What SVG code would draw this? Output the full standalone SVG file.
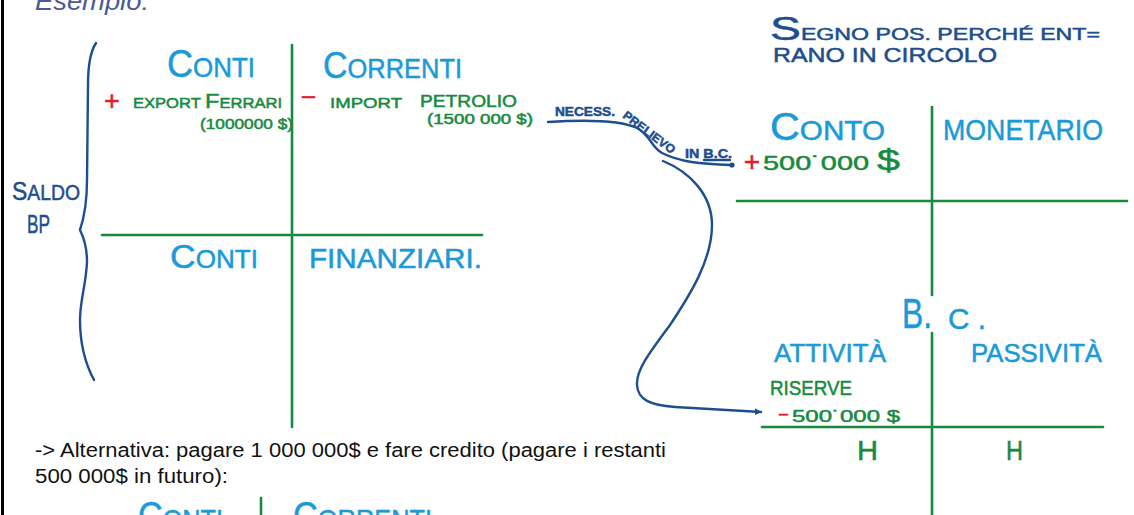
<svg xmlns="http://www.w3.org/2000/svg" width="1134" height="515" viewBox="0 0 1134 515">
<defs>
<marker id="arrow" viewBox="0 0 10 10" refX="9" refY="5" markerWidth="7" markerHeight="7" markerUnits="userSpaceOnUse" orient="auto">
<path d="M0,0 L10,5 L0,10 z" fill="#1d4e8f"/>
</marker>
<style>
.hw{font-family:"Liberation Sans","Noto Sans",sans-serif;stroke-width:0.5;}
.cyan{fill:#1a9ad8;stroke:#1a9ad8;}
.green{fill:#188a3e;stroke:#188a3e;}
.dblue{fill:#1d4e8f;stroke:#1d4e8f;}
.red{fill:#e61b2b;stroke:#e61b2b;}
.gline{stroke:#188a3e;stroke-width:2.6;fill:none;stroke-linecap:round;}
.bline{stroke:#1d4e8f;stroke-width:2.4;fill:none;stroke-linecap:round;}
.body{font-family:"Liberation Sans","Open Sans",sans-serif;font-size:20px;fill:#111;}
</style>
</defs>
<rect width="1134" height="515" fill="#ffffff"/>
<rect x="1" y="0" width="3" height="515" fill="#000"/>
<text x="35" y="10" font-family="Liberation Sans, sans-serif" font-style="italic" font-size="25" fill="#4a5a94" textLength="114" lengthAdjust="spacingAndGlyphs">Esempio:</text>

<g id="saldo-bp">
<path class="bline" d="M96,43 C90,52 88,65 88,85 L87,180 C87,205 84,218 80,230 C85,240 87,248 87,262 C86,285 80,300 80,320 C80,345 86,365 94,380"/>
<text class="hw dblue" x="12" y="200" font-size="22" textLength="68" lengthAdjust="spacingAndGlyphs"><tspan font-size="26">S</tspan>ALDO</text>
<text class="hw dblue" x="27" y="233" font-size="26" textLength="23" lengthAdjust="spacingAndGlyphs">BP</text>
</g>

<g id="bp-table">
<line class="gline" x1="292" y1="45" x2="292" y2="427"/>
<line class="gline" x1="102" y1="235" x2="482" y2="235"/>
<text class="hw cyan" x="167" y="77" font-size="28" textLength="88" lengthAdjust="spacingAndGlyphs"><tspan font-size="39">C</tspan>ONTI</text>
<text class="hw cyan" x="323" y="78" font-size="27" textLength="139" lengthAdjust="spacingAndGlyphs"><tspan font-size="36">C</tspan>ORRENTI</text>
<text class="hw red" x="112" y="110" font-size="27" text-anchor="middle" stroke-width="0.8">+</text>
<text class="hw green" x="133" y="108" font-size="14" textLength="149" lengthAdjust="spacingAndGlyphs">EXPORT <tspan font-size="20">F</tspan>ERRARI</text>
<text class="hw green" x="200" y="129" font-size="14" textLength="93" lengthAdjust="spacingAndGlyphs">(1000000 $)</text>
<text class="hw red" x="302" y="104" font-size="26" stroke-width="0.8" textLength="13" lengthAdjust="spacingAndGlyphs">–</text>
<text class="hw green" x="330" y="108" font-size="15" textLength="72" lengthAdjust="spacingAndGlyphs">IMPORT</text>
<text class="hw green" x="420" y="107" font-size="16" textLength="97" lengthAdjust="spacingAndGlyphs">PETROLIO</text>
<text class="hw green" x="427" y="124" font-size="14" textLength="106" lengthAdjust="spacingAndGlyphs">(1500 000 $)</text>
<text class="hw cyan" x="170" y="268" font-size="25" textLength="88" lengthAdjust="spacingAndGlyphs"><tspan font-size="34">C</tspan>ONTI</text>
<text class="hw cyan" x="309" y="268" font-size="27" textLength="173" lengthAdjust="spacingAndGlyphs">FINANZIARI.</text>
</g>

<g id="note-segno">
<text class="hw dblue" x="770" y="40" font-size="17" textLength="330" lengthAdjust="spacingAndGlyphs"><tspan font-size="34">S</tspan>EGNO POS. PERCHÉ ENT=</text>
<text class="hw dblue" x="773" y="62" font-size="21" textLength="224" lengthAdjust="spacingAndGlyphs">RANO IN CIRCOLO</text>
</g>

<g id="conto-monetario">
<line class="gline" x1="932" y1="107" x2="932" y2="295"/>
<line class="gline" x1="737" y1="201" x2="1127" y2="201"/>
<text class="hw cyan" x="770" y="140" font-size="28" textLength="115" lengthAdjust="spacingAndGlyphs"><tspan font-size="39">C</tspan>ONTO</text>
<text class="hw cyan" x="943" y="140" font-size="29" textLength="160" lengthAdjust="spacingAndGlyphs">MONETARIO</text>
<text class="hw red" x="752" y="171" font-size="28" text-anchor="middle" stroke-width="0.8">+</text>
<text class="hw green" x="763" y="170" font-size="21" textLength="137" lengthAdjust="spacingAndGlyphs">500˙000 <tspan font-size="30">$</tspan></text>
</g>

<g id="banca-centrale">
<line class="gline" x1="932" y1="333" x2="932" y2="515"/>
<line class="gline" x1="762" y1="427" x2="1103" y2="427"/>
<text class="hw cyan" x="902" y="328" font-size="42" textLength="30" lengthAdjust="spacingAndGlyphs">B.</text>
<text class="hw cyan" x="948" y="329" font-size="29" textLength="38" lengthAdjust="spacingAndGlyphs">C .</text>
<text class="hw cyan" x="774" y="362" font-size="25" textLength="112" lengthAdjust="spacingAndGlyphs">ATTIVITÀ</text>
<text class="hw cyan" x="971" y="362" font-size="25" textLength="131" lengthAdjust="spacingAndGlyphs">PASSIVITÀ</text>
<text class="hw green" x="770" y="395" font-size="21" textLength="82" lengthAdjust="spacingAndGlyphs">RISERVE</text>
<text class="hw red" x="779" y="419" font-size="17" stroke-width="0.8" textLength="9" lengthAdjust="spacingAndGlyphs">–</text>
<text class="hw green" x="792" y="422" font-size="17" textLength="108" lengthAdjust="spacingAndGlyphs">500˙000 $</text>
<text class="hw green" x="857" y="460" font-size="27" textLength="21" lengthAdjust="spacingAndGlyphs">H</text>
<text class="hw green" x="1006" y="460" font-size="27" textLength="17" lengthAdjust="spacingAndGlyphs">H</text>
</g>

<g id="connectors">
<path class="bline" d="M548,122 C580,120 620,120 637,128 C650,135 652,148 662,153 C680,162 700,164 731,165"/>
<circle cx="732" cy="165" r="2.6" fill="#1d4e8f"/>
<path class="bline" d="M663,161 C690,172 712,195 712,225 C712,260 690,295 670,325 C650,352 636,370 637,385 C638,400 650,405 675,407 L761,412" marker-end="url(#arrow)"/>
<text class="hw dblue" x="555" y="116" font-size="13" font-weight="bold" textLength="60" lengthAdjust="spacingAndGlyphs">NECESS.</text>
<text class="hw dblue" transform="translate(622,117) rotate(37)" font-size="12" font-weight="bold" textLength="62" lengthAdjust="spacingAndGlyphs">PRELIEVO</text>
<text class="hw dblue" x="685" y="158" font-size="13" font-weight="bold" textLength="47" lengthAdjust="spacingAndGlyphs">IN B.C.</text>
<line class="bline" x1="704" y1="160" x2="730" y2="160" stroke-width="1.6"/>
</g>

<g id="alternativa">
<text class="body" x="35" y="457" textLength="631" lengthAdjust="spacingAndGlyphs">-&gt; Alternativa: pagare 1 000 000$ e fare credito (pagare i restanti</text>
<text class="body" x="35" y="483" textLength="193" lengthAdjust="spacingAndGlyphs">500 000$ in futuro):</text>
</g>

<g id="bp-table-2">
<line class="gline" x1="261" y1="498" x2="261" y2="515"/>
<text class="hw cyan" x="138" y="529" font-size="28" textLength="85" lengthAdjust="spacingAndGlyphs"><tspan font-size="38">C</tspan>ONTI</text>
<text class="hw cyan" x="293" y="529" font-size="28" textLength="139" lengthAdjust="spacingAndGlyphs"><tspan font-size="38">C</tspan>ORRENTI</text>
</g>
</svg>
